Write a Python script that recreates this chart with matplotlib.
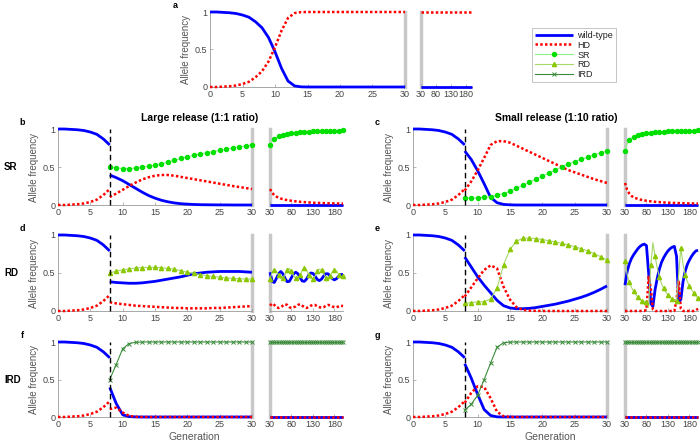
import matplotlib
matplotlib.use("Agg")
import matplotlib.pyplot as plt
from matplotlib.lines import Line2D

plt.rcParams['font.family'] = ['Liberation Sans', 'DejaVu Sans']

# generations
early_gen = list(range(0, 31))
pre_gen = list(range(0, 9))
post_gen = list(range(8, 31))
late_gen = list(range(30, 201, 5))

# panel a: no release
none_wt = [1.0, 1.0, 0.995, 0.99, 0.98, 0.96, 0.93, 0.87, 0.79, 0.66, 0.47, 0.25, 0.08, 0.015, 0.002,
           0.0, 0.0, 0.0, 0.0, 0.0, 0.0, 0.0, 0.0, 0.0, 0.0, 0.0, 0.0, 0.0, 0.0, 0.0, 0.0]
none_hd = [0.0, 0.0, 0.005, 0.01, 0.02, 0.04, 0.07, 0.13, 0.21, 0.34, 0.53, 0.75, 0.92, 0.985, 0.998,
           1.0, 1.0, 1.0, 1.0, 1.0, 1.0, 1.0, 1.0, 1.0, 1.0, 1.0, 1.0, 1.0, 1.0, 1.0, 1.0]
a_late_wt = [0.0] * 35
a_late_hd = [1.0] * 35

# before release (same in b-g)
pre_wt = none_wt[:9]
pre_hd = none_hd[:9]

# b: SR, large release
b_wt = [0.395, 0.36, 0.32, 0.27, 0.22, 0.17, 0.125, 0.09, 0.062, 0.042, 0.027, 0.017, 0.011, 0.007,
        0.004, 0.003, 0.002, 0.001, 0.001, 0.0, 0.0, 0.0, 0.0]
b_hd = [0.105, 0.15, 0.2, 0.25, 0.295, 0.335, 0.365, 0.385, 0.395, 0.395, 0.385, 0.37, 0.355, 0.34,
        0.325, 0.31, 0.295, 0.28, 0.265, 0.25, 0.237, 0.224, 0.21]
b_sr = [0.5, 0.49, 0.48, 0.48, 0.485, 0.495, 0.51, 0.525, 0.543, 0.563, 0.588, 0.613, 0.634, 0.653,
        0.671, 0.687, 0.703, 0.719, 0.734, 0.75, 0.763, 0.776, 0.79]
b_late_wt = [0.0] * 35
b_late_hd = [0.21, 0.16, 0.13, 0.11, 0.095, 0.085, 0.078, 0.07, 0.065, 0.06, 0.056, 0.052, 0.048, 0.045,
             0.042, 0.04, 0.038, 0.036, 0.034, 0.032, 0.03, 0.029, 0.028, 0.027, 0.026, 0.025, 0.024,
             0.023, 0.022, 0.021, 0.021, 0.02, 0.02, 0.019, 0.019]
b_late_sr = [0.79, 0.84, 0.87, 0.89, 0.905, 0.915, 0.922, 0.93, 0.935, 0.94, 0.944, 0.948, 0.952, 0.955,
             0.958, 0.96, 0.962, 0.964, 0.966, 0.968, 0.97, 0.971, 0.972, 0.973, 0.974, 0.975, 0.976,
             0.977, 0.978, 0.979, 0.979, 0.98, 0.98, 0.981, 0.981]

# c: SR, small release
c_wt = [0.71, 0.6, 0.45, 0.28, 0.1, 0.03, 0.008, 0.002, 0.0, 0.0, 0.0, 0.0, 0.0, 0.0, 0.0, 0.0,
        0.0, 0.0, 0.0, 0.0, 0.0, 0.0, 0.0]
c_hd = [0.19, 0.31, 0.455, 0.62, 0.79, 0.84, 0.84, 0.82, 0.78, 0.74, 0.7, 0.66, 0.62, 0.58, 0.54,
        0.5, 0.46, 0.43, 0.4, 0.37, 0.34, 0.315, 0.29]
c_sr = [0.09, 0.09, 0.095, 0.1, 0.11, 0.13, 0.15, 0.18, 0.22, 0.26, 0.3, 0.34, 0.38, 0.42, 0.46,
        0.5, 0.54, 0.57, 0.6, 0.63, 0.66, 0.685, 0.71]
c_late_wt = [0.0] * 35
c_late_hd = [0.29, 0.2, 0.15, 0.12, 0.1, 0.09, 0.08, 0.072, 0.066, 0.06, 0.056, 0.052, 0.048, 0.045,
             0.042, 0.04, 0.038, 0.036, 0.034, 0.032, 0.03, 0.029, 0.028, 0.027, 0.026, 0.025, 0.024,
             0.023, 0.022, 0.021, 0.021, 0.02, 0.02, 0.019, 0.019]
c_late_sr = [0.71, 0.8, 0.85, 0.88, 0.9, 0.91, 0.92, 0.928, 0.934, 0.94, 0.944, 0.948, 0.952, 0.955,
             0.958, 0.96, 0.962, 0.964, 0.966, 0.968, 0.97, 0.971, 0.972, 0.973, 0.974, 0.975, 0.976,
             0.977, 0.978, 0.979, 0.979, 0.98, 0.98, 0.981, 0.981]

# d: RD, large release
d_wt = [0.385, 0.375, 0.37, 0.365, 0.365, 0.37, 0.38, 0.39, 0.405, 0.42, 0.435, 0.45, 0.47, 0.49,
        0.5, 0.51, 0.515, 0.52, 0.52, 0.52, 0.52, 0.515, 0.51]
d_hd = [0.115, 0.1, 0.09, 0.08, 0.07, 0.065, 0.06, 0.055, 0.05, 0.045, 0.04, 0.04, 0.035, 0.035,
        0.035, 0.035, 0.04, 0.04, 0.045, 0.05, 0.055, 0.06, 0.065]
d_rd = [0.5, 0.525, 0.54, 0.555, 0.565, 0.57, 0.575, 0.575, 0.57, 0.56, 0.55, 0.53, 0.51, 0.495,
        0.48, 0.465, 0.455, 0.445, 0.435, 0.43, 0.425, 0.42, 0.42]
d_late_wt = [0.51, 0.39, 0.375, 0.43, 0.49, 0.52, 0.49, 0.43, 0.385, 0.39, 0.44, 0.49, 0.51, 0.49,
             0.44, 0.395, 0.39, 0.42, 0.47, 0.5, 0.495, 0.46, 0.415, 0.4, 0.42, 0.46, 0.49, 0.49,
             0.46, 0.425, 0.41, 0.425, 0.46, 0.48, 0.48]
d_late_hd = [0.07, 0.1, 0.08, 0.05, 0.04, 0.05, 0.07, 0.09, 0.08, 0.05, 0.04, 0.05, 0.06, 0.08,
             0.09, 0.07, 0.05, 0.04, 0.05, 0.07, 0.08, 0.08, 0.06, 0.05, 0.045, 0.05, 0.07, 0.08,
             0.075, 0.06, 0.05, 0.05, 0.06, 0.07, 0.065]
d_late_rd = [0.42, 0.51, 0.545, 0.52, 0.47, 0.43, 0.44, 0.48, 0.535, 0.56, 0.52, 0.46, 0.43, 0.43,
             0.47, 0.535, 0.56, 0.54, 0.48, 0.43, 0.425, 0.46, 0.525, 0.55, 0.535, 0.49, 0.44, 0.43,
             0.465, 0.515, 0.54, 0.525, 0.48, 0.45, 0.455]

# e: RD, small release
e_wt = [0.71, 0.58, 0.45, 0.34, 0.24, 0.14, 0.07, 0.04, 0.03, 0.03, 0.035, 0.045, 0.06, 0.075,
        0.09, 0.11, 0.13, 0.155, 0.18, 0.21, 0.245, 0.285, 0.33]
e_hd = [0.19, 0.31, 0.43, 0.54, 0.6, 0.56, 0.32, 0.15, 0.05, 0.015, 0.005, 0.002, 0.0, 0.0, 0.0,
        0.0, 0.0, 0.0, 0.0, 0.0, 0.0, 0.0, 0.0]
e_rd = [0.1, 0.11, 0.12, 0.12, 0.16, 0.3, 0.61, 0.81, 0.92, 0.955, 0.96, 0.953, 0.94, 0.925, 0.91,
        0.89, 0.87, 0.845, 0.82, 0.79, 0.755, 0.715, 0.67]
e_late_wt = [0.34, 0.52, 0.62, 0.69, 0.74, 0.78, 0.82, 0.85, 0.87, 0.88, 0.86, 0.5, 0.1, 0.06, 0.28,
             0.43, 0.55, 0.64, 0.7, 0.75, 0.79, 0.82, 0.84, 0.85, 0.72, 0.12, 0.15, 0.38, 0.52,
             0.61, 0.67, 0.72, 0.76, 0.79, 0.8]
e_late_hd = [0.0, 0.0, 0.0, 0.0, 0.0, 0.0, 0.0, 0.0, 0.0, 0.0, 0.02, 0.45, 0.3, 0.02, 0.0, 0.0, 0.0,
             0.0, 0.0, 0.0, 0.0, 0.0, 0.0, 0.0, 0.15, 0.4, 0.03, 0.0, 0.0, 0.0, 0.0, 0.0, 0.0,
             0.01, 0.03]
e_late_rd = [0.66, 0.48, 0.38, 0.31, 0.26, 0.22, 0.18, 0.15, 0.13, 0.12, 0.12, 0.05, 0.6, 0.9, 0.72,
             0.57, 0.45, 0.36, 0.3, 0.25, 0.21, 0.18, 0.16, 0.15, 0.13, 0.48, 0.83, 0.62, 0.48,
             0.39, 0.33, 0.28, 0.24, 0.2, 0.17]

# f: IRD, large release
f_wt = [0.395, 0.18, 0.03, 0.005, 0.001] + [0.0] * 18
f_hd = [0.105, 0.125, 0.06, 0.015, 0.003] + [0.0] * 18
f_ird = [0.5, 0.7, 0.91, 0.98, 0.996] + [1.0] * 18
f_late_wt = [0.0] * 35
f_late_hd = [0.0] * 35
f_late_ird = [1.0] * 35

# g: IRD, small release
g_wt = [0.71, 0.52, 0.3, 0.1, 0.02, 0.002] + [0.0] * 17
g_hd = [0.19, 0.32, 0.41, 0.4, 0.25, 0.07, 0.01, 0.001] + [0.0] * 15
g_ird = [0.09, 0.17, 0.29, 0.5, 0.72, 0.93, 0.99, 0.999] + [1.0] * 15
g_late_wt = [0.0] * 35
g_late_hd = [0.0] * 35
g_late_ird = [1.0] * 35

# styles
WT = dict(color=(0, 0, 1), lw=2.0, solid_capstyle='butt')
HD = dict(color=(1, 0, 0), lw=1.8, linestyle=(0, (1, 0.9)), dash_capstyle='butt')
SR = dict(color='#8af08a', lw=0.8, marker='o', ms=2.9, mfc='#00e000', mec='#00e000')
RD = dict(color='#a6d86a', lw=0.8, marker='^', ms=3.0, mfc='#8cc800', mec='#8cc800')
IRD = dict(color='#3c8c3c', lw=0.8, marker='x', ms=2.2, mew=0.7, mec='#3c8c3c')
variant_style = {'SR': SR, 'RD': RD, 'IRD': IRD}

W, H = 700, 444
fig = plt.figure(figsize=(W / 100, H / 100), dpi=100)
TXT = '#444444'
GRAY = '#c8c8c8'


def add_ax(l, t, r, b):
    return fig.add_axes([l / W, 1 - b / H, (r - l) / W, (b - t) / H])


def style_main(ax):
    ax.set_xlim(0, 30)
    ax.set_ylim(0, 1)
    ax.set_xticks([0, 5, 10, 15, 20, 25, 30])
    ax.set_yticks([0, 0.5, 1])
    ax.set_yticklabels(['0', '0.5', '1'])
    for s in ['top', 'right']:
        ax.spines[s].set_visible(False)
    for s in ['left', 'bottom']:
        ax.spines[s].set_color('#9a9a9a')
        ax.spines[s].set_linewidth(0.6)
    ax.tick_params(direction='in', length=2, width=0.5, colors='#9a9a9a',
                   labelcolor=TXT, labelsize=6.5, pad=2)
    ax.set_ylabel('Allele frequency', fontsize=7, color='#555555', labelpad=3)
    ax.plot([30, 30], [0, 1], color=GRAY, lw=2.5, clip_on=False, zorder=1.5)


def style_late(ax):
    ax.set_xlim(30, 200)
    ax.set_ylim(0, 1)
    ax.set_xticks([30, 80, 130, 180])
    ax.set_yticks([])
    for s in ['top', 'right', 'left']:
        ax.spines[s].set_visible(False)
    ax.spines['bottom'].set_color('#9a9a9a')
    ax.spines['bottom'].set_linewidth(0.6)
    ax.tick_params(direction='in', length=2, width=0.5, colors='#9a9a9a',
                   labelcolor=TXT, labelsize=6.5, pad=2)
    ax.plot([30, 30], [0, 1], color=GRAY, lw=2.5, clip_on=False, zorder=1.5)


def release_panel(main_box, late_box, kind, wt, hd, var, late_wt, late_hd, late_var):
    ax = add_ax(*main_box)
    style_main(ax)
    ax.plot(pre_gen, pre_wt, clip_on=False, zorder=3, **WT)
    ax.plot(post_gen, wt, clip_on=False, zorder=3, **WT)
    ax.plot(pre_gen, pre_hd, clip_on=False, zorder=3, **HD)
    ax.plot(post_gen, hd, clip_on=False, zorder=3, **HD)
    ax.plot(post_gen, var, clip_on=False, zorder=4, **variant_style[kind])
    ax.plot([8, 8], [0, 1], color='k', lw=1.0, linestyle=(0, (4, 2.5)), zorder=5, clip_on=False)

    axl = add_ax(*late_box)
    style_late(axl)
    axl.plot(late_gen, late_wt, clip_on=False, zorder=3, **WT)
    axl.plot(late_gen, late_hd, clip_on=False, zorder=3, **HD)
    every = 1 if kind == 'IRD' else 2
    axl.plot(late_gen, late_var, clip_on=False, zorder=4, markevery=every, **variant_style[kind])
    return ax, axl


# panel a
axa = add_ax(210, 12, 405, 87)
style_main(axa)
axa.plot(early_gen, none_wt, clip_on=False, zorder=3, **WT)
axa.plot(early_gen, none_hd, clip_on=False, zorder=3, **HD)
axa2 = add_ax(421, 12, 472, 87)
style_late(axa2)
axa2.plot(late_gen, a_late_wt, clip_on=False, zorder=3, **WT)
axa2.plot(late_gen, a_late_hd, clip_on=False, zorder=3, **HD)

LEFT_MAIN, LEFT_LATE = (58, 252), (270, 343)
RIGHT_MAIN, RIGHT_LATE = (413, 607), (625, 698)
ROWS = [(129, 205), (235, 311), (342, 417)]

panels = [
    ('SR', (b_wt, b_hd, b_sr, b_late_wt, b_late_hd, b_late_sr),
     (c_wt, c_hd, c_sr, c_late_wt, c_late_hd, c_late_sr)),
    ('RD', (d_wt, d_hd, d_rd, d_late_wt, d_late_hd, d_late_rd),
     (e_wt, e_hd, e_rd, e_late_wt, e_late_hd, e_late_rd)),
    ('IRD', (f_wt, f_hd, f_ird, f_late_wt, f_late_hd, f_late_ird),
     (g_wt, g_hd, g_ird, g_late_wt, g_late_hd, g_late_ird)),
]
letters = [('b', 'c'), ('d', 'e'), ('f', 'g')]

for (kind, left, right), (t, b), (ll, rl) in zip(panels, ROWS, letters):
    release_panel((LEFT_MAIN[0], t, LEFT_MAIN[1], b), (LEFT_LATE[0], t, LEFT_LATE[1], b),
                  kind, *left)
    release_panel((RIGHT_MAIN[0], t, RIGHT_MAIN[1], b), (RIGHT_LATE[0], t, RIGHT_LATE[1], b),
                  kind, *right)
    fig.text(4 / W, 1 - (t + b) / 2 / H, kind, fontsize=7, fontweight='bold', va='center', ha='left')
    fig.text(22 / W, 1 - (t - 7) / H, ll, fontsize=6.5, fontweight='bold', va='center', ha='center')
    fig.text(377 / W, 1 - (t - 7) / H, rl, fontsize=6.5, fontweight='bold', va='center', ha='center')

fig.text(175 / W, 1 - 5 / H, 'a', fontsize=6.5, fontweight='bold', va='center', ha='center')
fig.text(200 / W, 1 - 118 / H, 'Large release (1:1 ratio)', fontsize=7.5, fontweight='bold',
         ha='center', va='center')
fig.text(556 / W, 1 - 118 / H, 'Small release (1:10 ratio)', fontsize=7.5, fontweight='bold',
         ha='center', va='center')
fig.text(194 / W, 1 - 437 / H, 'Generation', fontsize=7.5, color='#555555', ha='center', va='center')
fig.text(550 / W, 1 - 437 / H, 'Generation', fontsize=7.5, color='#555555', ha='center', va='center')

handles = [Line2D([], [], **WT), Line2D([], [], **HD), Line2D([], [], **SR),
           Line2D([], [], **RD), Line2D([], [], **IRD)]
labels = ['wild-type', 'HD', 'SR', 'RD', 'IRD']
leg = fig.legend(handles, labels, loc='upper left', bbox_to_anchor=(532 / W, 1 - 28 / H),
                 fontsize=6.5, frameon=True, fancybox=False, borderaxespad=0,
                 handlelength=4.2, handletextpad=0.5, labelspacing=0.1, borderpad=0.3)
leg.get_frame().set_edgecolor('#aaaaaa')
leg.get_frame().set_linewidth(0.6)
for t in leg.get_texts():
    t.set_color('#222222')

fig.savefig('out.png', dpi=100)
